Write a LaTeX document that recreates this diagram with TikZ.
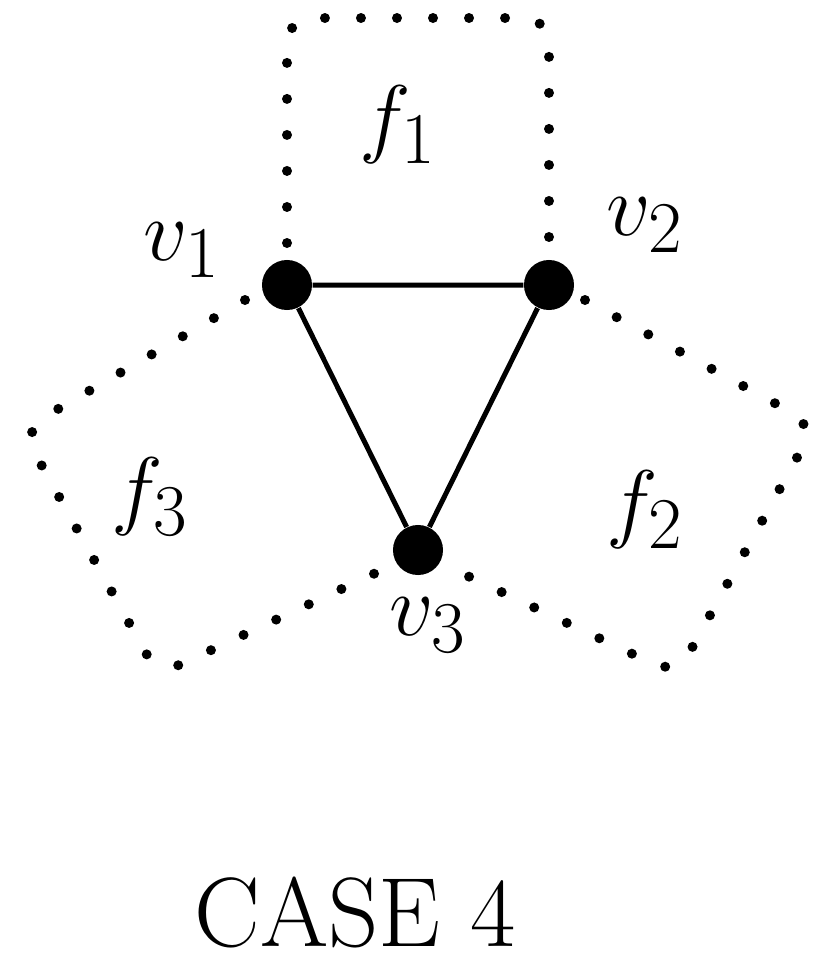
\documentclass[tikz,border=0pt]{standalone}
\begin{document}
\begin{tikzpicture}[x=0.01cm,y=-0.01cm,
  vtx/.style={circle,fill=black,inner sep=0pt,minimum size=0.5cm},
  face/.style={line width=0.1cm,line cap=round,dash pattern=on 0pt off 0.36cm,rounded corners=0.25cm},
  lbl/.style={font=\fontsize{30}{36}\selectfont},
  edge/.style={line width=0.05cm}]
\useasboundingbox (0,0) rectangle (834,966);
\node[vtx] (v1) at (287,285) {};
\node[vtx] (v2) at (549,285) {};
\node[vtx] (v3) at (418,550) {};
\draw[edge] (v1) -- (v2) -- (v3) -- (v1);
\coordinate (a1) at (287,243);
\coordinate (a2) at (549,243);
\draw[face] (a1) -- (287,18) -- (549,18) -- (a2);
\coordinate (b1) at (245,300);
\coordinate (b2) at (382,570);
\draw[face] (b1) -- (22,430) -- (158,675) -- (b2);
\coordinate (c1) at (585,300);
\coordinate (c2) at (455,570);
\draw[face] (c1) -- (815,425) -- (677,675) -- (c2);
\node[lbl] (lf1) at (398,125) {$f_1$};
\node[lbl] (lf2) at (645,510) {$f_2$};
\node[lbl] (lf3) at (150,497) {$f_3$};
\node[lbl] (lv1) at (182,250) {$v_1$};
\node[lbl] (lv2) at (645,225) {$v_2$};
\node[lbl] (lv3) at (428,625) {$v_3$};
\node[font=\fontsize{28}{34}\selectfont] (case) at (355,912) {CASE 4};
\end{tikzpicture}
\end{document}
